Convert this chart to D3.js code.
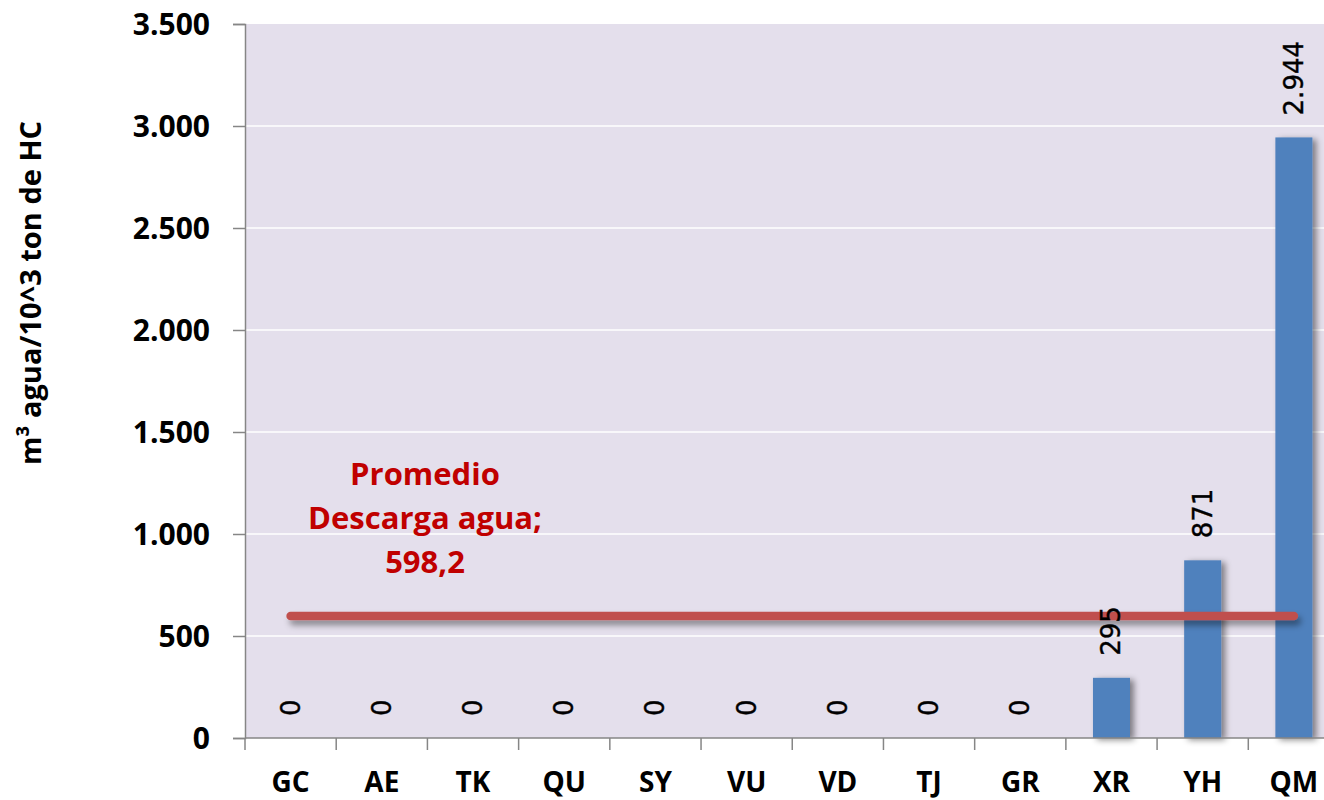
<!DOCTYPE html>
<html>
<head>
<meta charset="utf-8">
<script src="https://cdn.jsdelivr.net/npm/d3@7"></script>
<style>
  html, body { margin: 0; padding: 0; background: #ffffff; }
  svg { display: block; }
</style>
</head>
<body>
<svg id="chart" width="1324" height="800"></svg>
<script>
const categories = ["GC", "AE", "TK", "QU", "SY", "VU", "VD", "TJ", "GR", "XR", "YH", "QM"];
const values = [0, 0, 0, 0, 0, 0, 0, 0, 0, 295, 871, 2944];
const yTicks = [0, 500, 1000, 1500, 2000, 2500, 3000, 3500];
const averageValue = 598.2;
const averageLabel = ["Promedio", "Descarga agua;", "598,2"];
const yTitle = "m³ agua/10^3 ton de HC";

(function () {
const locale = d3.formatLocale({ decimal: ",", thousands: ".", grouping: [3], currency: ["", ""] });
const fmt = locale.format(",d");

const svg = d3.select("#chart");
const pLeft = 245, pTop = 24, pBottom = 738, pRight = 1339.5;

const x = d3.scaleBand().domain(categories).range([pLeft, pRight]).paddingInner(0.594).paddingOuter(0.297);
const y = d3.scaleLinear().domain([0, 3500]).range([pBottom, pTop]);

const defs = svg.append("defs");
const fb = defs.append("filter").attr("id", "barShadow").attr("x", "-30%").attr("y", "-10%").attr("width", "180%").attr("height", "130%");
fb.append("feDropShadow").attr("dx", 4).attr("dy", 2).attr("stdDeviation", 3).attr("flood-color", "#000").attr("flood-opacity", 0.45);
const fl = defs.append("filter").attr("id", "lineShadow").attr("filterUnits", "userSpaceOnUse")
  .attr("x", 0).attr("y", 0).attr("width", 1324).attr("height", 800);
fl.append("feDropShadow").attr("dx", 3).attr("dy", 5).attr("stdDeviation", 3).attr("flood-color", "#000").attr("flood-opacity", 0.4);

// plot background
svg.append("rect").attr("x", pLeft).attr("y", pTop).attr("width", pRight - pLeft).attr("height", pBottom - pTop).attr("fill", "#E4DFEC");

// gridlines
svg.append("g").selectAll("line").data(yTicks.filter(d => d > 0 && d < 3500)).join("line")
  .attr("x1", pLeft).attr("x2", pRight).attr("y1", d => y(d)).attr("y2", d => y(d))
  .attr("stroke", "#ffffff").attr("stroke-width", 1.5);

// bars
svg.append("g").selectAll("rect").data(categories).join("rect")
  .attr("x", d => x(d)).attr("width", x.bandwidth())
  .attr("y", (d, i) => y(values[i])).attr("height", (d, i) => pBottom - y(values[i]))
  .attr("fill", "#4F81BD").attr("filter", "url(#barShadow)");

// y axis
const yAxis = svg.append("g").attr("transform", `translate(${pLeft},0)`)
  .call(d3.axisLeft(y).tickValues(yTicks).tickSize(12).tickPadding(23).tickFormat(fmt));
yAxis.select(".domain").attr("stroke", "#868686").attr("stroke-width", 1.5);
yAxis.selectAll(".tick line").attr("stroke", "#868686").attr("stroke-width", 1.5);
yAxis.selectAll(".tick text").attr("font-family", "'Open Sans', sans-serif").attr("font-weight", "bold")
  .attr("font-size", 30).attr("fill", "#000").attr("dy", "0.36em");

// x axis
const xAxis = svg.append("g").attr("transform", `translate(0,${pBottom})`);
xAxis.append("line").attr("x1", pLeft).attr("x2", pRight).attr("stroke", "#868686").attr("stroke-width", 1.5);
const boundaries = categories.map(c => x(c) - x.step() * x.paddingInner() / 2).concat([pRight]);
xAxis.selectAll("line.tk").data(boundaries).join("line").attr("class", "tk")
  .attr("x1", d => d).attr("x2", d => d).attr("y1", 0).attr("y2", 12)
  .attr("stroke", "#868686").attr("stroke-width", 1.5);
xAxis.selectAll("text").data(categories).join("text")
  .attr("x", d => x(d) + x.bandwidth() / 2).attr("y", 54)
  .attr("text-anchor", "middle").attr("font-family", "'Open Sans', sans-serif").attr("font-weight", "bold")
  .attr("font-size", 28).attr("fill", "#000").text(d => d);

// average line
svg.append("line")
  .attr("x1", x(categories[0]) + x.bandwidth() / 2).attr("x2", x(categories[categories.length - 1]) + x.bandwidth() / 2)
  .attr("y1", y(averageValue)).attr("y2", y(averageValue))
  .attr("stroke", "#C0504D").attr("stroke-width", 8.5).attr("stroke-linecap", "round")
  .attr("filter", "url(#lineShadow)");

// average label
svg.append("text").attr("text-anchor", "middle").attr("font-family", "'Open Sans', sans-serif")
  .attr("font-weight", "bold").attr("font-size", 31).attr("fill", "#C00000")
  .selectAll("tspan").data(averageLabel).join("tspan")
  .attr("x", 425).attr("y", (d, i) => 485 + i * 44).text(d => d);

// data labels
svg.append("g").selectAll("text").data(categories).join("text")
  .attr("transform", (d, i) => `translate(${x(d) + x.bandwidth() / 2},${y(values[i]) - 22}) rotate(-90)`)
  .attr("text-anchor", "start").attr("dominant-baseline", "central")
  .attr("font-family", "'DejaVu Sans', sans-serif").attr("font-size", 26).attr("fill", "#000")
  .attr("stroke", "#000").attr("stroke-width", 0.4)
  .text((d, i) => fmt(values[i]));

// y title
svg.append("text").attr("transform", "translate(41,293) rotate(-90)")
  .attr("text-anchor", "middle").attr("font-family", "'Open Sans', sans-serif").attr("font-weight", "bold")
  .attr("font-size", 29).attr("fill", "#000").text(yTitle);
})();
</script>
</body>
</html>
